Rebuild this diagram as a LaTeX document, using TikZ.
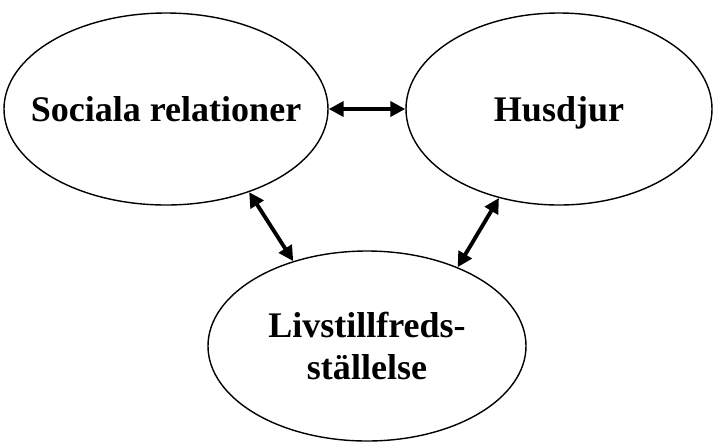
\documentclass[tikz,border=0pt]{standalone}
\usepackage{fontspec}
\setmainfont{Liberation Serif}
\usetikzlibrary{shapes.geometric,arrows.meta}

\begin{document}
\begin{tikzpicture}[x=0.02cm,y=-0.02cm,
    topic/.style={ellipse,draw=black,line width=0.8pt,inner sep=0pt,
        font=\bfseries\fontsize{20.5}{24.4}\selectfont,align=center},
    oneline/.style={text height=14pt,text depth=0pt},
    link/.style={line width=2.2pt,{Triangle[length=8.5pt,width=8.5pt]}-{Triangle[length=8.5pt,width=8.5pt]}}]
      \useasboundingbox (0,0) rectangle (713,441);
      \node[topic,oneline,minimum width=324*0.02cm,minimum height=192*0.02cm] (social) at (166,109) {\makebox[0pt]{Sociala relationer}};
      \node[topic,oneline,minimum width=306*0.02cm,minimum height=192*0.02cm] (pets) at (559,109) {Husdjur};
      \node[topic,minimum width=318*0.02cm,minimum height=190*0.02cm] (life) at (367,346) {Livstillfreds-\\ställelse};
      \path
      (social.east) edge [link] (pets.west)
      (social.-45) edge [link] (life.131)
      (pets.236) edge [link] (life.41);
    \end{tikzpicture}
\end{document}
